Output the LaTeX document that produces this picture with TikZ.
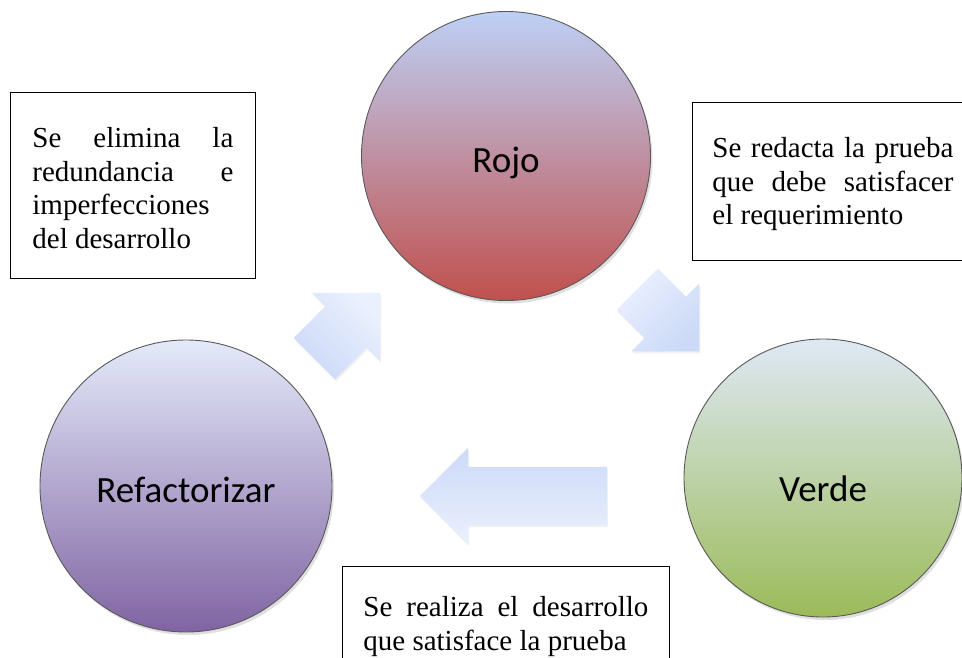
\documentclass[tikz,border=0pt]{standalone}
\usepackage{fontspec}
\setmainfont{Liberation Serif}
\newfontfamily\etiqueta{Carlito}
\usetikzlibrary{shapes.arrows,shadows}

\definecolor{rojoarriba}{RGB}{190,208,246}
\definecolor{rojoabajo}{RGB}{192,80,77}
\definecolor{verdearriba}{RGB}{222,232,244}
\definecolor{verdeabajo}{RGB}{155,187,89}
\definecolor{refacarriba}{RGB}{228,234,250}
\definecolor{refacabajo}{RGB}{128,100,162}
\definecolor{flechaarriba}{RGB}{234,240,253}
\definecolor{flechaabajo}{RGB}{204,218,248}

\begin{document}
\begin{tikzpicture}[x=1pt,y=-1pt,
	fase/.style={circle,draw=black!65,line width=0.9pt,inner sep=0pt,text height=32pt,text depth=0pt,font=\etiqueta\fontsize{37pt}{40pt}\selectfont,drop shadow={shadow xshift=2pt,shadow yshift=-3pt,opacity=0.25}},
	flecha/.style={single arrow,single arrow head extend=19pt,single arrow tip angle=90,inner xsep=0pt,inner ysep=29pt,draw=none,top color=flechaarriba,bottom color=flechaabajo,drop shadow={shadow xshift=1pt,shadow yshift=-2pt,opacity=0.12}},
	nota/.style={draw,fill=white,line width=0.8pt,anchor=north west,font=\fontsize{29pt}{33.5pt}\selectfont}]
	% Fix the visible area
	\useasboundingbox (0,0) rectangle (962,657);
	\clip (0,0) rectangle (962,657);

	% Draw the three phases
	\node[fase,minimum size=289pt,top color=rojoarriba,bottom color=rojoabajo] (rojo) at (506,156) {Rojo};
	\node[fase,minimum size=278pt,text height=46pt,top color=verdearriba,bottom color=verdeabajo] (verde) at (823,478) {Verde};
	\node[fase,minimum size=292pt,top color=refacarriba,bottom color=refacabajo] (refac) at (186,486) {Refactorizar};

	% Draw block arrows between phases
	\node[flecha,minimum height=93pt,rotate=45,shading angle=-45] (subida) at (337,336) {};
	\node[flecha,minimum height=88pt,rotate=-45,shading angle=45] (bajada) at (658,310) {};
	\node[flecha,minimum height=187pt,rotate=180,shading angle=180] (regreso) at (528,496) {};

	% Draw the notes
	\node[nota,inner xsep=22pt,inner ysep=35pt] (limpiar) at (10,92) {\parbox[t][116pt][t]{201pt}{\makebox[201pt][s]{Se elimina la}\\ \makebox[201pt][s]{redundancia e}\\ imperfecciones\\ del desarrollo}};
	\node[nota,inner xsep=20pt,inner ysep=35pt] (redactar) at (692,102) {\parbox[t][88pt][t]{241pt}{\makebox[241pt][s]{Se redacta la prueba}\\ \makebox[241pt][s]{que debe satisfacer}\\ el requerimiento}};
	\node[nota,inner xsep=21pt,inner ysep=30pt] (desarrollar) at (342,566) {\parbox[t][110pt][t]{285pt}{\makebox[285pt][s]{Se realiza el desarrollo}\\ que satisface la prueba}};
\end{tikzpicture}
\end{document}
